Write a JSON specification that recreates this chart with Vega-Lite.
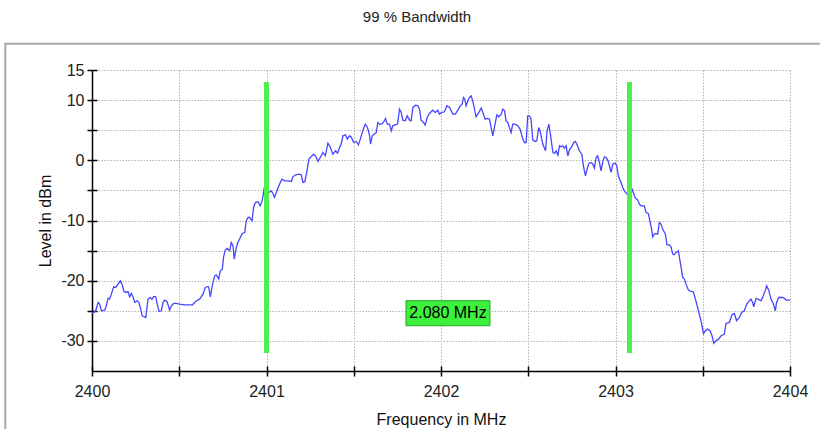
{
  "$schema": "https://vega.github.io/schema/vega-lite/v6.json",
  "width": 698,
  "height": 301,
  "autosize": "none",
  "padding": {"left": 92, "top": 70, "right": 30, "bottom": 58},
  "background": "white",
  "title": {"text": "99 % Bandwidth", "font": "Liberation Sans", "fontSize": 15, "fontWeight": "normal", "color": "#222222", "anchor": "middle", "dx": -24, "offset": 18},
  "config": {"view": {"stroke": null}},
  "datasets": {
    "spectrum": [
      {"f": 2400.0, "l": -25.3}, {"f": 2400.010, "l": -25.28}, {"f": 2400.021, "l": -25.0}, {"f": 2400.035, "l": -23.62}, {"f": 2400.044, "l": -23.89}, {"f": 2400.054, "l": -25.0}, {"f": 2400.073, "l": -24.89}, {"f": 2400.082, "l": -24.17}, {"f": 2400.092, "l": -22.90}, {"f": 2400.101, "l": -23.06}, {"f": 2400.111, "l": -22.23}, {"f": 2400.124, "l": -21.01}, {"f": 2400.136, "l": -21.12}, {"f": 2400.149, "l": -20.57}, {"f": 2400.162, "l": -20.02}, {"f": 2400.172, "l": -20.57}, {"f": 2400.183, "l": -21.79}, {"f": 2400.197, "l": -21.95}, {"f": 2400.206, "l": -21.79}, {"f": 2400.216, "l": -22.67}, {"f": 2400.225, "l": -22.12}, {"f": 2400.235, "l": -22.67}, {"f": 2400.245, "l": -23.62}, {"f": 2400.258, "l": -23.34}, {"f": 2400.269, "l": -23.62}, {"f": 2400.279, "l": -24.72}, {"f": 2400.288, "l": -25.83}, {"f": 2400.308, "l": -26.11}, {"f": 2400.321, "l": -23.06}, {"f": 2400.334, "l": -22.79}, {"f": 2400.344, "l": -23.06}, {"f": 2400.353, "l": -22.62}, {"f": 2400.365, "l": -22.67}, {"f": 2400.374, "l": -23.89}, {"f": 2400.384, "l": -25.11}, {"f": 2400.397, "l": -25.0}, {"f": 2400.407, "l": -23.62}, {"f": 2400.416, "l": -23.23}, {"f": 2400.430, "l": -23.45}, {"f": 2400.445, "l": -24.89}, {"f": 2400.455, "l": -24.17}, {"f": 2400.468, "l": -23.78}, {"f": 2400.483, "l": -23.78}, {"f": 2400.502, "l": -23.89}, {"f": 2400.531, "l": -24.0}, {"f": 2400.560, "l": -24.0}, {"f": 2400.575, "l": -24.0}, {"f": 2400.594, "l": -23.45}, {"f": 2400.617, "l": -23.06}, {"f": 2400.636, "l": -22.23}, {"f": 2400.649, "l": -21.12}, {"f": 2400.665, "l": -20.96}, {"f": 2400.670, "l": -21.23}, {"f": 2400.678, "l": -22.67}, {"f": 2400.689, "l": -20.85}, {"f": 2400.703, "l": -19.19}, {"f": 2400.712, "l": -19.02}, {"f": 2400.726, "l": -19.74}, {"f": 2400.735, "l": -18.36}, {"f": 2400.747, "l": -18.08}, {"f": 2400.754, "l": -16.03}, {"f": 2400.764, "l": -14.92}, {"f": 2400.775, "l": -14.65}, {"f": 2400.789, "l": -15.03}, {"f": 2400.798, "l": -13.65}, {"f": 2400.808, "l": -14.20}, {"f": 2400.815, "l": -16.42}, {"f": 2400.827, "l": -14.48}, {"f": 2400.836, "l": -13.65}, {"f": 2400.850, "l": -12.82}, {"f": 2400.861, "l": -12.15}, {"f": 2400.875, "l": -11.99}, {"f": 2400.884, "l": -10.05}, {"f": 2400.894, "l": -9.50}, {"f": 2400.903, "l": -9.50}, {"f": 2400.917, "l": -10.05}, {"f": 2400.926, "l": -7.84}, {"f": 2400.936, "l": -7.00}, {"f": 2400.951, "l": -6.89}, {"f": 2400.964, "l": -7.56}, {"f": 2400.976, "l": -6.62}, {"f": 2400.987, "l": -4.62},
      {"f": 2401.014, "l": -5.34}, {"f": 2401.027, "l": -5.07}, {"f": 2401.037, "l": -5.51}, {"f": 2401.046, "l": -6.17}, {"f": 2401.060, "l": -5.07}, {"f": 2401.071, "l": -4.24}, {"f": 2401.088, "l": -3.13}, {"f": 2401.104, "l": -3.41}, {"f": 2401.123, "l": -3.41}, {"f": 2401.142, "l": -3.52}, {"f": 2401.151, "l": -2.74}, {"f": 2401.167, "l": -2.41}, {"f": 2401.186, "l": -2.30}, {"f": 2401.199, "l": -2.41}, {"f": 2401.209, "l": -3.68}, {"f": 2401.220, "l": -3.52}, {"f": 2401.232, "l": -1.74}, {"f": 2401.243, "l": 0.19}, {"f": 2401.256, "l": 0.58}, {"f": 2401.270, "l": 1.02}, {"f": 2401.281, "l": 0.75}, {"f": 2401.295, "l": -0.19}, {"f": 2401.308, "l": 0.47}, {"f": 2401.323, "l": 1.30}, {"f": 2401.337, "l": 0.75}, {"f": 2401.352, "l": 2.85}, {"f": 2401.365, "l": 2.24}, {"f": 2401.380, "l": 1.02}, {"f": 2401.396, "l": 1.58}, {"f": 2401.407, "l": 1.19}, {"f": 2401.419, "l": 2.13}, {"f": 2401.428, "l": 2.69}, {"f": 2401.438, "l": 4.07}, {"f": 2401.453, "l": 4.24}, {"f": 2401.463, "l": 3.52}, {"f": 2401.476, "l": 4.07}, {"f": 2401.487, "l": 3.79}, {"f": 2401.499, "l": 2.96}, {"f": 2401.514, "l": 3.13}, {"f": 2401.527, "l": 2.57}, {"f": 2401.539, "l": 3.68}, {"f": 2401.552, "l": 4.90}, {"f": 2401.566, "l": 6.01}, {"f": 2401.579, "l": 5.45}, {"f": 2401.591, "l": 4.07}, {"f": 2401.596, "l": 2.69}, {"f": 2401.606, "l": 4.07}, {"f": 2401.619, "l": 4.35}, {"f": 2401.629, "l": 4.62}, {"f": 2401.638, "l": 6.28}, {"f": 2401.648, "l": 6.01}, {"f": 2401.661, "l": 6.01}, {"f": 2401.673, "l": 6.45}, {"f": 2401.682, "l": 6.95}, {"f": 2401.692, "l": 6.01}, {"f": 2401.705, "l": 6.01}, {"f": 2401.715, "l": 4.90}, {"f": 2401.724, "l": 5.73}, {"f": 2401.738, "l": 5.90}, {"f": 2401.751, "l": 6.01}, {"f": 2401.762, "l": 8.50}, {"f": 2401.772, "l": 7.95}, {"f": 2401.781, "l": 6.67}, {"f": 2401.795, "l": 6.56}, {"f": 2401.806, "l": 7.39}, {"f": 2401.820, "l": 6.67}, {"f": 2401.829, "l": 6.56}, {"f": 2401.839, "l": 8.78}, {"f": 2401.854, "l": 9.16}, {"f": 2401.867, "l": 9.05}, {"f": 2401.877, "l": 8.50}, {"f": 2401.886, "l": 6.67}, {"f": 2401.900, "l": 6.28}, {"f": 2401.909, "l": 5.84}, {"f": 2401.921, "l": 7.11}, {"f": 2401.934, "l": 7.78}, {"f": 2401.953, "l": 8.33}, {"f": 2401.968, "l": 7.95}, {"f": 2401.982, "l": 8.33}, {"f": 2401.991, "l": 7.67}, {"f": 2402.005, "l": 7.95}, {"f": 2402.020, "l": 8.06}, {"f": 2402.033, "l": 9.05}, {"f": 2402.049, "l": 8.78},
      {"f": 2402.068, "l": 7.67}, {"f": 2402.083, "l": 7.67}, {"f": 2402.096, "l": 8.33}, {"f": 2402.110, "l": 9.05}, {"f": 2402.121, "l": 9.33}, {"f": 2402.129, "l": 10.44}, {"f": 2402.136, "l": 10.16}, {"f": 2402.144, "l": 9.05}, {"f": 2402.154, "l": 9.88}, {"f": 2402.163, "l": 10.44}, {"f": 2402.173, "l": 10.71}, {"f": 2402.182, "l": 9.88}, {"f": 2402.192, "l": 8.50}, {"f": 2402.201, "l": 7.23}, {"f": 2402.217, "l": 7.95}, {"f": 2402.230, "l": 8.67}, {"f": 2402.240, "l": 7.95}, {"f": 2402.253, "l": 6.84}, {"f": 2402.268, "l": 6.95}, {"f": 2402.278, "l": 6.84}, {"f": 2402.287, "l": 5.45}, {"f": 2402.297, "l": 4.07}, {"f": 2402.306, "l": 5.45}, {"f": 2402.320, "l": 7.56}, {"f": 2402.331, "l": 7.23}, {"f": 2402.345, "l": 7.67}, {"f": 2402.354, "l": 8.50}, {"f": 2402.364, "l": 8.22}, {"f": 2402.373, "l": 6.56}, {"f": 2402.383, "l": 6.28}, {"f": 2402.392, "l": 5.45}, {"f": 2402.402, "l": 4.62}, {"f": 2402.411, "l": 6.01}, {"f": 2402.425, "l": 6.01}, {"f": 2402.440, "l": 5.73}, {"f": 2402.453, "l": 5.18}, {"f": 2402.469, "l": 3.52}, {"f": 2402.478, "l": 2.96}, {"f": 2402.488, "l": 2.96}, {"f": 2402.497, "l": 7.39}, {"f": 2402.507, "l": 7.39}, {"f": 2402.516, "l": 6.84}, {"f": 2402.526, "l": 3.35}, {"f": 2402.539, "l": 3.13}, {"f": 2402.549, "l": 3.24}, {"f": 2402.560, "l": 5.45}, {"f": 2402.570, "l": 4.62}, {"f": 2402.583, "l": 2.69}, {"f": 2402.599, "l": 1.58}, {"f": 2402.608, "l": 4.90}, {"f": 2402.618, "l": 6.01}, {"f": 2402.627, "l": 4.35}, {"f": 2402.641, "l": 1.30}, {"f": 2402.650, "l": 1.14}, {"f": 2402.660, "l": 1.58}, {"f": 2402.670, "l": 0.86}, {"f": 2402.679, "l": 2.41}, {"f": 2402.689, "l": 2.24}, {"f": 2402.698, "l": 2.41}, {"f": 2402.707, "l": 2.02}, {"f": 2402.717, "l": 2.41}, {"f": 2402.727, "l": 0.75}, {"f": 2402.736, "l": 1.69}, {"f": 2402.749, "l": 2.24}, {"f": 2402.761, "l": 2.96}, {"f": 2402.770, "l": 3.13}, {"f": 2402.780, "l": 2.57}, {"f": 2402.793, "l": 1.58}, {"f": 2402.807, "l": 1.02}, {"f": 2402.816, "l": -0.91}, {"f": 2402.828, "l": -2.57}, {"f": 2402.837, "l": -1.47}, {"f": 2402.847, "l": -0.53}, {"f": 2402.860, "l": -0.36}, {"f": 2402.870, "l": -0.64}, {"f": 2402.879, "l": -1.30}, {"f": 2402.889, "l": 0.47}, {"f": 2402.898, "l": 0.75}, {"f": 2402.908, "l": -0.36}, {"f": 2402.917, "l": -1.74}, {"f": 2402.927, "l": -0.25}, {"f": 2402.936, "l": 0.58}, {"f": 2402.946, "l": 0.47}, {"f": 2402.956, "l": 0.03}, {"f": 2402.965, "l": -0.91}, {"f": 2402.975, "l": -2.02}, {"f": 2402.984, "l": -0.64}, {"f": 2402.998, "l": -0.47}, {"f": 2403.007, "l": -0.91}, {"f": 2403.017, "l": -2.69}, {"f": 2403.032, "l": -3.68}, {"f": 2403.045, "l": -4.79}, {"f": 2403.057, "l": -5.34}, {"f": 2403.070, "l": -5.73},
      {"f": 2403.076, "l": -5.18}, {"f": 2403.095, "l": -4.79}, {"f": 2403.104, "l": -5.51}, {"f": 2403.114, "l": -6.28}, {"f": 2403.127, "l": -6.56}, {"f": 2403.137, "l": -7.28}, {"f": 2403.146, "l": -7.56}, {"f": 2403.165, "l": -7.56}, {"f": 2403.175, "l": -8.67}, {"f": 2403.188, "l": -8.83}, {"f": 2403.198, "l": -10.16}, {"f": 2403.207, "l": -11.43}, {"f": 2403.213, "l": -12.71}, {"f": 2403.223, "l": -12.26}, {"f": 2403.232, "l": -12.15}, {"f": 2403.242, "l": -12.26}, {"f": 2403.251, "l": -10.33}, {"f": 2403.261, "l": -10.60}, {"f": 2403.270, "l": -11.43}, {"f": 2403.286, "l": -12.26}, {"f": 2403.295, "l": -14.04}, {"f": 2403.309, "l": -14.04}, {"f": 2403.318, "l": -14.37}, {"f": 2403.328, "l": -15.59}, {"f": 2403.337, "l": -15.70}, {"f": 2403.347, "l": -15.31}, {"f": 2403.360, "l": -15.03}, {"f": 2403.366, "l": -16.03}, {"f": 2403.376, "l": -17.80}, {"f": 2403.385, "l": -19.46}, {"f": 2403.395, "l": -19.74}, {"f": 2403.404, "l": -20.57}, {"f": 2403.418, "l": -21.57}, {"f": 2403.433, "l": -21.79}, {"f": 2403.446, "l": -21.84}, {"f": 2403.458, "l": -23.06}, {"f": 2403.471, "l": -24.45}, {"f": 2403.484, "l": -26.0}, {"f": 2403.494, "l": -27.21}, {"f": 2403.504, "l": -28.77}, {"f": 2403.515, "l": -28.32}, {"f": 2403.528, "l": -28.05}, {"f": 2403.542, "l": -28.32}, {"f": 2403.553, "l": -29.15}, {"f": 2403.563, "l": -30.42}, {"f": 2403.576, "l": -29.98}, {"f": 2403.591, "l": -29.71}, {"f": 2403.605, "l": -29.15}, {"f": 2403.624, "l": -28.88}, {"f": 2403.633, "l": -27.11}, {"f": 2403.652, "l": -26.94}, {"f": 2403.668, "l": -25.66}, {"f": 2403.681, "l": -25.44}, {"f": 2403.694, "l": -26.66}, {"f": 2403.710, "l": -26.11}, {"f": 2403.723, "l": -25.28}, {"f": 2403.738, "l": -25.0}, {"f": 2403.752, "l": -23.89}, {"f": 2403.767, "l": -23.34}, {"f": 2403.776, "l": -23.06}, {"f": 2403.786, "l": -23.62}, {"f": 2403.792, "l": -24.34}, {"f": 2403.805, "l": -22.95}, {"f": 2403.818, "l": -23.06}, {"f": 2403.834, "l": -23.34}, {"f": 2403.847, "l": -22.51}, {"f": 2403.859, "l": -21.57}, {"f": 2403.866, "l": -20.85}, {"f": 2403.878, "l": -21.57}, {"f": 2403.891, "l": -23.06}, {"f": 2403.904, "l": -23.78}, {"f": 2403.916, "l": -25.0}, {"f": 2403.923, "l": -23.62}, {"f": 2403.935, "l": -22.79}, {"f": 2403.958, "l": -22.79}, {"f": 2403.967, "l": -22.90}, {"f": 2403.977, "l": -23.23}, {"f": 2403.996, "l": -23.23}, {"f": 2404.0, "l": -23.23}
    ],
    "markers": [{"freq": 2401.0}, {"freq": 2403.08}],
    "bw": [{"mid": 2402.04, "level": -25.4, "label": "2.080 MHz"}]
  },
  "layer": [
    {
      "data": {"values": [{"frame": "panel"}]},
      "mark": {"type": "rect", "filled": false, "stroke": "#a8a8a8", "strokeWidth": 2, "clip": false},
      "encoding": {
        "x": {"datum": 2399.503, "type": "quantitative", "axis": null},
        "x2": {"datum": 2404.5},
        "y": {"datum": 19.35, "type": "quantitative", "axis": null},
        "y2": {"datum": -50}
      }
    },
    {
      "data": {"name": "spectrum"},
      "mark": {"type": "line", "color": "#4646ff", "strokeWidth": 1.3, "clip": true},
      "encoding": {
        "x": {
          "field": "f", "type": "quantitative",
          "scale": {"domain": [2400, 2404], "nice": false, "zero": false},
          "axis": {
            "orient": "bottom",
            "title": "Frequency in MHz",
            "values": [2400, 2400.5, 2401, 2401.5, 2402, 2402.5, 2403, 2403.5, 2404],
            "labelExpr": "datum.value % 1 == 0 ? toString(datum.value) : ''",
            "labelFlush": false, "labelOverlap": false,
            "grid": true, "gridDash": [1.5, 1.5], "gridColor": "#b4b4b4", "gridWidth": 1,
            "domainColor": "#000000", "domainWidth": 1.5,
            "tickColor": "#000000", "tickWidth": 1.5, "tickSize": 5,
            "labelPadding": 7, "labelFont": "Liberation Sans", "labelFontSize": 16, "labelColor": "#222222",
            "titleFont": "Liberation Sans", "titleFontSize": 16, "titleFontWeight": "normal", "titleColor": "#111111", "titlePadding": 12
          }
        },
        "y": {
          "field": "l", "type": "quantitative",
          "scale": {"domain": [-35, 15], "nice": false, "zero": false},
          "axis": {
            "orient": "left",
            "title": "Level in dBm",
            "values": [-30, -25, -20, -15, -10, -5, 0, 5, 10, 15],
            "labelExpr": "datum.value == 15 || datum.value % 10 == 0 ? toString(datum.value) : ''",
            "labelOverlap": false, "labelFlush": false,
            "grid": true, "gridDash": [1.5, 1.5], "gridColor": "#b4b4b4", "gridWidth": 1,
            "domainColor": "#000000", "domainWidth": 1.5,
            "tickColor": "#000000", "tickWidth": 1.5, "tickSize": 5,
            "labelPadding": 3, "labelFont": "Liberation Sans", "labelFontSize": 16, "labelColor": "#222222",
            "titleFont": "Liberation Sans", "titleFontSize": 16, "titleFontWeight": "normal", "titleColor": "#111111", "titlePadding": 7
          }
        }
      }
    },
    {
      "data": {"name": "markers"},
      "mark": {"type": "rule", "color": "#4cf04c", "strokeWidth": 5},
      "encoding": {
        "x": {
          "field": "freq", "type": "quantitative",
          "axis": {"orient": "bottom", "values": [2400, 2400.5, 2401, 2401.5, 2402, 2402.5, 2403, 2403.5, 2404], "offset": -5, "tickSize": 5, "tickColor": "#000000", "tickWidth": 1.5, "labels": false, "domain": false, "grid": false, "title": null}
        },
        "y": {
          "datum": 13, "type": "quantitative",
          "axis": {"orient": "left", "values": [-30, -25, -20, -15, -10, -5, 0, 5, 10, 15], "offset": -5, "tickSize": 5, "tickColor": "#000000", "tickWidth": 1.5, "labels": false, "domain": false, "grid": false, "title": null}
        },
        "y2": {"datum": -32}
      }
    },
    {
      "data": {"name": "bw"},
      "mark": {"type": "rect", "width": 84, "height": 25, "fill": "#3cf03c", "stroke": "#22a822", "strokeWidth": 1},
      "encoding": {
        "x": {"field": "mid", "type": "quantitative", "axis": null},
        "y": {"field": "level", "type": "quantitative", "axis": null}
      }
    },
    {
      "data": {"name": "bw"},
      "mark": {"type": "text", "font": "Liberation Sans", "fontSize": 16, "color": "#000000", "align": "center", "baseline": "middle"},
      "encoding": {
        "x": {"field": "mid", "type": "quantitative", "axis": null},
        "y": {"field": "level", "type": "quantitative", "axis": null},
        "text": {"field": "label"}
      }
    }
  ],
  "resolve": {"axis": {"x": "independent", "y": "independent"}}
}
